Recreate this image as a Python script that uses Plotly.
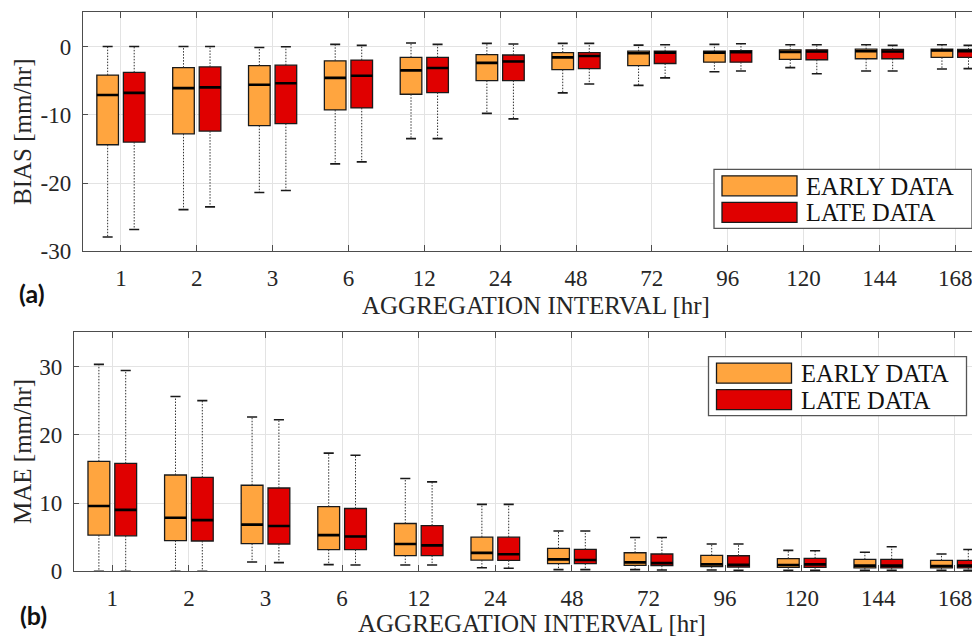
import plotly.graph_objects as go

# ---------------- data ----------------
categories = ["1", "2", "3", "6", "12", "24", "48", "72", "96", "120", "144", "168"]

early_bias_low = [-27.9, -23.9, -21.4, -17.2, -13.5, -9.8, -6.8, -5.7, -3.7, -3.1, -3.6, -3.3]
early_bias_q1 = [-14.4, -12.8, -11.6, -9.3, -7.0, -5.0, -3.4, -2.8, -2.3, -1.9, -1.8, -1.6]
early_bias_med = [-7.1, -6.1, -5.6, -4.6, -3.5, -2.4, -1.6, -1.0, -0.9, -0.8, -0.7, -0.6]
early_bias_q3 = [-4.2, -3.1, -2.8, -2.1, -1.6, -1.2, -0.9, -0.7, -0.7, -0.5, -0.4, -0.4]
early_bias_high = [0.0, 0.0, -0.15, 0.3, 0.5, 0.45, 0.45, 0.2, 0.3, 0.25, 0.25, 0.25]

late_bias_low = [-26.8, -23.5, -21.1, -16.9, -13.5, -10.6, -5.5, -4.6, -3.6, -4.0, -3.6, -3.25]
late_bias_q1 = [-14.0, -12.4, -11.3, -9.0, -6.75, -5.0, -3.25, -2.5, -2.3, -1.95, -1.8, -1.6]
late_bias_med = [-6.8, -6.0, -5.4, -4.3, -3.15, -2.2, -1.4, -0.9, -0.85, -0.75, -0.75, -0.7]
late_bias_q3 = [-3.8, -3.0, -2.75, -2.0, -1.6, -1.25, -0.9, -0.7, -0.6, -0.5, -0.45, -0.45]
late_bias_high = [0.0, 0.0, -0.05, 0.15, 0.3, 0.35, 0.45, 0.25, 0.4, 0.25, 0.15, 0.15]

early_mae_low = [0.0, 0.0, 1.37, 0.98, 0.93, 0.53, 0.24, 0.24, 0.2, 0.15, 0.15, 0.15]
early_mae_q1 = [5.3, 4.5, 4.05, 3.17, 2.3, 1.65, 1.12, 0.88, 0.68, 0.58, 0.49, 0.49]
early_mae_med = [9.56, 7.85, 6.83, 5.3, 4.0, 2.7, 1.75, 1.31, 1.02, 0.92, 0.83, 0.78]
early_mae_q3 = [16.1, 14.1, 12.6, 9.46, 7.0, 5.0, 3.35, 2.72, 2.33, 1.85, 1.75, 1.6]
early_mae_high = [30.3, 25.6, 22.6, 17.3, 13.6, 9.8, 5.9, 4.96, 4.0, 3.06, 2.8, 2.53]

late_mae_low = [0.0, 0.0, 1.27, 0.93, 0.93, 0.44, 0.24, 0.2, 0.15, 0.15, 0.15, 0.15]
late_mae_q1 = [5.2, 4.44, 4.0, 3.17, 2.3, 1.6, 1.12, 0.83, 0.63, 0.58, 0.49, 0.49]
late_mae_med = [9.0, 7.5, 6.63, 5.1, 3.8, 2.5, 1.65, 1.2, 0.97, 1.02, 0.83, 0.83]
late_mae_q3 = [15.8, 13.75, 12.2, 9.2, 6.7, 5.0, 3.2, 2.53, 2.28, 1.9, 1.75, 1.6]
late_mae_high = [29.4, 25.0, 22.2, 17.0, 13.1, 9.8, 5.9, 4.96, 4.0, 3.0, 3.6, 3.2]

bias_ticks = [-30, -20, -10, 0]
bias_ticktext = ["-30", "-20", "-10", "0"]
mae_ticks = [0, 10, 20, 30]
mae_ticktext = ["0", "10", "20", "30"]

series_names = ["EARLY DATA", "LATE DATA"]

# ---------------- style ----------------
PAGE_OFF = 8  # default body margin of the html page
W, H = 980, 639
X_RIGHT_PX = PAGE_OFF + W  # page x of the right end of the plot areas
EARLY_COLOR = "#FFA53F"
LATE_COLOR = "#E00000"
SERIF = "Liberation Serif, Times New Roman, serif"
OFFSET = 0.175
BOX_W = 0.285
CAP_HALF = 0.066


def px_x(p):
    return (p - PAGE_OFF) / W


def px_y(p):
    return 1 - (p - PAGE_OFF) / H


fig = go.Figure()

positions = list(range(1, len(categories) + 1))


def add_group(xa, ya, low, q1, med, q3, high, color, offset):
    xs = [p + offset for p in positions]
    fig.add_trace(go.Box(
        x=xs, q1=q1, median=med, q3=q3, lowerfence=q1, upperfence=q3,
        width=BOX_W, fillcolor=color, line=dict(color="#1a1a1a", width=1.3),
        whiskerwidth=0, boxpoints=False, xaxis=xa, yaxis=ya, showlegend=False,
        hoverinfo="skip"))
    wx, wy = [], []
    for x, a, b, c, d in zip(xs, low, q1, q3, high):
        wx += [x, x, None, x, x, None]
        wy += [c, d, None, b, a, None]
    fig.add_trace(go.Scatter(x=wx, y=wy, mode="lines",
                             line=dict(color="#333333", width=1, dash="1.5px,1.5px"),
                             xaxis=xa, yaxis=ya, showlegend=False, hoverinfo="skip"))
    cx, cy = [], []
    for x, a, d in zip(xs, low, high):
        cx += [x - CAP_HALF, x + CAP_HALF, None, x - CAP_HALF, x + CAP_HALF, None]
        cy += [d, d, None, a, a, None]
    fig.add_trace(go.Scatter(x=cx, y=cy, mode="lines",
                             line=dict(color="#1a1a1a", width=1.6),
                             xaxis=xa, yaxis=ya, showlegend=False, hoverinfo="skip"))
    mx, my = [], []
    for x, m in zip(xs, med):
        mx += [x - BOX_W / 2, x + BOX_W / 2, None]
        my += [m, m, None]
    fig.add_trace(go.Scatter(x=mx, y=my, mode="lines",
                             line=dict(color="black", width=2.6),
                             xaxis=xa, yaxis=ya, showlegend=False, hoverinfo="skip"))


add_group("x", "y", early_bias_low, early_bias_q1, early_bias_med, early_bias_q3, early_bias_high, EARLY_COLOR, -OFFSET)
add_group("x", "y", late_bias_low, late_bias_q1, late_bias_med, late_bias_q3, late_bias_high, LATE_COLOR, OFFSET)
add_group("x2", "y2", early_mae_low, early_mae_q1, early_mae_med, early_mae_q3, early_mae_high, EARLY_COLOR, -OFFSET)
add_group("x2", "y2", late_mae_low, late_mae_q1, late_mae_med, late_mae_q3, late_mae_high, LATE_COLOR, OFFSET)

AXIS_COLOR = "#4d4d4d"
GRID_COLOR = "#e3e3e3"
tickfont = dict(family=SERIF, size=23, color="#262626")

# x range chosen so that category spacing matches the reference (~76 px)
x_right = 1 + (X_RIGHT_PX - 120.3) / 75.9

xcommon = dict(tickmode="array", tickvals=positions, ticktext=categories,
               range=[0.5, x_right], ticks="inside", ticklen=6, tickwidth=1.2,
               tickcolor=AXIS_COLOR, showline=True, linecolor=AXIS_COLOR, linewidth=1.3,
               mirror="ticks", showgrid=True, gridcolor=GRID_COLOR, gridwidth=1,
               zeroline=False, tickfont=tickfont, ticklabelstandoff=6, automargin=False,
               ticklabeloverflow="allow")
ycommon = dict(ticks="inside", ticklen=5, tickwidth=1.2, tickcolor=AXIS_COLOR,
               showline=True, linecolor=AXIS_COLOR, linewidth=1.3, mirror=False,
               showgrid=True, gridcolor=GRID_COLOR, gridwidth=1, zeroline=False,
               tickfont=tickfont, tickmode="array", ticklabelstandoff=6, automargin=False)

fig.update_layout(
    width=W, height=H, margin=dict(l=0, r=0, t=0, b=0, pad=0, autoexpand=False),
    paper_bgcolor="white", plot_bgcolor="white", showlegend=False,
    xaxis=dict(domain=[px_x(83), 1], anchor="y", **xcommon),
    yaxis=dict(domain=[px_y(251.3), px_y(12.3)], anchor="x", range=[-30, 5],
               tickvals=bias_ticks, ticktext=bias_ticktext, **ycommon),
    xaxis2=dict(domain=[px_x(74), 1], anchor="y2", **xcommon),
    yaxis2=dict(domain=[px_y(571.3), px_y(332.3)], anchor="x2", range=[0, 35],
                tickvals=mae_ticks, ticktext=mae_ticktext, **ycommon),
)

title_font = dict(family=SERIF, size=25, color="#262626")
annotations = [
    dict(text="BIAS [mm/hr]", x=px_x(22), y=px_y(132), textangle=-90, font=title_font),
    dict(text="MAE [mm/hr]", x=px_x(22), y=px_y(452), textangle=-90, font=title_font),
    dict(text="AGGREGATION INTERVAL [hr]", x=px_x(536), y=px_y(305), font=title_font),
    dict(text="AGGREGATION INTERVAL [hr]", x=px_x(532), y=px_y(623), font=title_font),
    dict(text="<b>(a)</b>", x=px_x(32), y=px_y(293), font=dict(family="Lato, sans-serif", size=25, color="#111")),
    dict(text="<b>(b)</b>", x=px_x(33), y=px_y(615), font=dict(family="Lato, sans-serif", size=25, color="#111")),
]
for a in annotations:
    a.update(xref="paper", yref="paper", showarrow=False, xanchor="center", yanchor="middle")

shapes = []


def add_legend(left, top):
    shapes.append(dict(type="rect", xref="paper", yref="paper",
                       x0=px_x(left), x1=px_x(left + 258), y0=px_y(top + 59), y1=px_y(top),
                       line=dict(color="#555555", width=1.3), fillcolor="white", layer="above"))
    for i, (name, col) in enumerate(zip(series_names, [EARLY_COLOR, LATE_COLOR])):
        y0 = top + 6.5 + i * 26.5
        shapes.append(dict(type="rect", xref="paper", yref="paper",
                           x0=px_x(left + 8), x1=px_x(left + 83), y0=px_y(y0 + 20), y1=px_y(y0),
                           line=dict(color="#1a1a1a", width=1.3), fillcolor=col, layer="above"))
        annotations.append(dict(text=name, xref="paper", yref="paper", showarrow=False,
                                x=px_x(left + 90), y=px_y(y0 + 10.5), xanchor="left", yanchor="middle",
                                font=dict(family=SERIF, size=24.5, color="#111")))


add_legend(714, 169.3)
add_legend(708.5, 356.7)

fig.update_layout(annotations=annotations, shapes=shapes)

fig.write_html("out.html")
